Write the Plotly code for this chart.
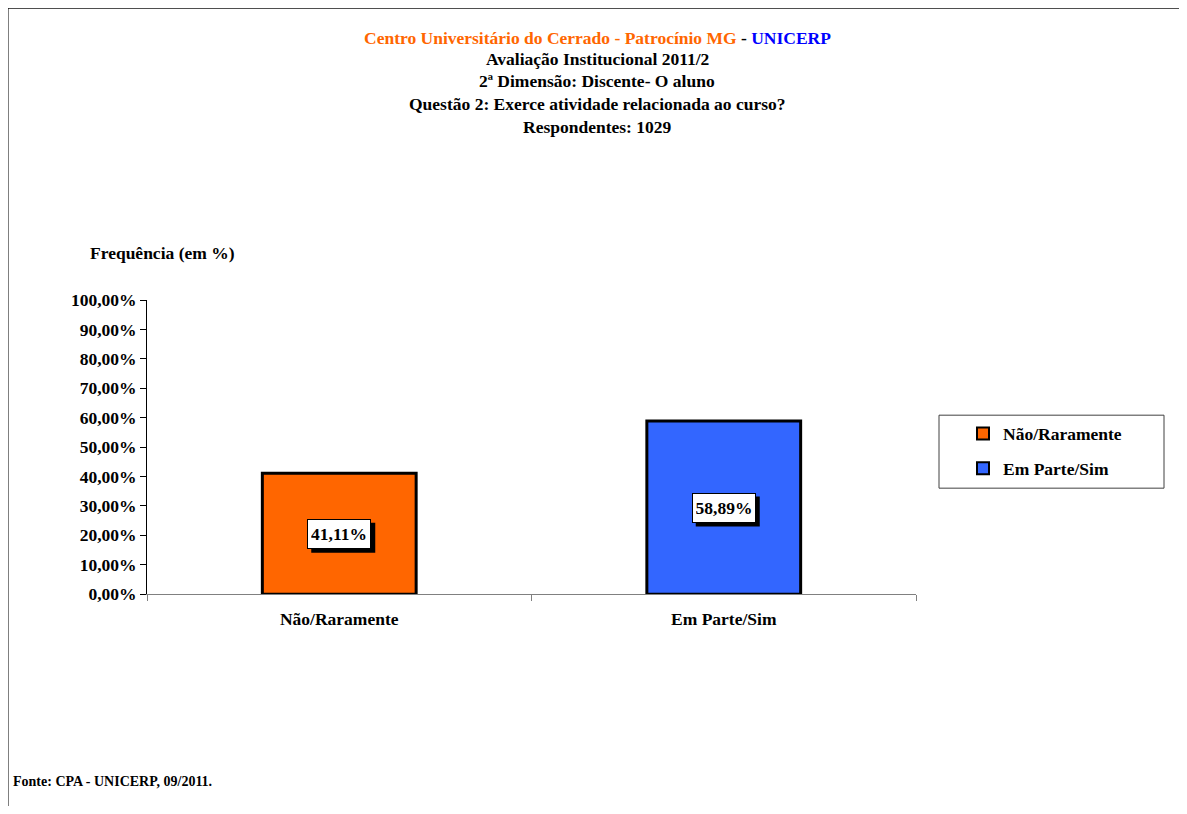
import plotly.graph_objects as go

categories = ["Não/Raramente", "Em Parte/Sim"]
values = [41.11, 58.89]
colors = ["#FF6600", "#3366FF"]
value_labels = ["41,11%", "58,89%"]
tick_vals = [0, 10, 20, 30, 40, 50, 60, 70, 80, 90, 100]
tick_text = ["0,00%", "10,00%", "20,00%", "30,00%", "40,00%", "50,00%",
             "60,00%", "70,00%", "80,00%", "90,00%", "100,00%"]

OFF = 8
W, H = 1187 - 2 * OFF, 814 - 2 * OFF
FONT = "Liberation Serif"
FS = 17.5


def px(x):
    return (x - OFF) / W


def py(y):
    # compensate for the vertical placement observed in the rendered page
    d = (y - 10) / 0.975
    return 1 - (d - OFF) / H


fig = go.Figure()
for c, v, col in zip(categories, values, colors):
    fig.add_trace(go.Bar(
        x=[c], y=[v], name=c, marker=dict(color=col, line=dict(color="black", width=3)),
        width=0.4, legendgroup=c, showlegend=True, hoverinfo="skip",
    ))

# Data labels with drop shadow (shadow drawn as a pixel-sized shape)
BW, BH = 56, 22  # inner label size (px)
for i, (c, v, lab) in enumerate(zip(categories, values, value_labels)):
    half_w = BW / 2 + 4
    half_h = BH / 2 + 4
    fig.add_shape(type="rect", xref="x", yref="y", xsizemode="pixel", ysizemode="pixel",
                  xanchor=i, yanchor=v / 2,
                  x0=-half_w + 4, x1=half_w + 4, y0=-half_h - 4, y1=half_h - 4,
                  fillcolor="black", line=dict(color="black", width=0), layer="above")
    fig.add_annotation(x=c, y=v / 2, text="<b>" + lab + "</b>", showarrow=False, xref="x", yref="y",
                       font=dict(family=FONT, size=FS, color="black"), width=BW, height=BH,
                       bgcolor="white", bordercolor="black", borderwidth=1, borderpad=3)

# Titles
title_lines = [
    "<span style='color:#FF6600'>Centro Universitário do Cerrado - Patrocínio MG</span> - <span style='color:#0000FF'>UNICERP</span>",
    "Avaliação Institucional 2011/2",
    "2ª Dimensão: Discente- O aluno",
    "Questão 2: Exerce atividade relacionada ao curso?",
    "Respondentes: 1029",
]
title_y = [38, 59, 81, 104, 127]
for t, y in zip(title_lines, title_y):
    fig.add_annotation(x=px(597), y=py(y), xref="paper", yref="paper", text="<b>" + t + "</b>",
                       showarrow=False, font=dict(family=FONT, size=FS, color="black"),
                       xanchor="center", yanchor="middle")

fig.add_annotation(x=px(88), y=py(253), xref="paper", yref="paper", text="<b>Frequência (em %)</b>",
                   showarrow=False, font=dict(family=FONT, size=FS, color="black"),
                   xanchor="left", yanchor="middle")

fig.add_annotation(x=px(11), y=py(781), xref="paper", yref="paper", text="<b>Fonte: CPA - UNICERP, 09/2011.</b>",
                   showarrow=False, font=dict(family=FONT, size=14, color="black"),
                   xanchor="left", yanchor="middle")

# Page frame
fig.add_shape(type="rect", xref="paper", yref="paper", x0=px(8), x1=px(1183), y0=py(840), y1=py(8),
              line=dict(color="black", width=1), fillcolor="rgba(0,0,0,0)", layer="below")
# Legend box
fig.add_shape(type="rect", xref="paper", yref="paper", x0=px(939), x1=px(1164), y0=py(488), y1=py(415),
              line=dict(color="#404040", width=1), fillcolor="white", layer="below")

fig.update_layout(
    width=W, height=H, margin=dict(l=0, r=0, t=0, b=0),
    paper_bgcolor="white", plot_bgcolor="white",
    font=dict(family=FONT, size=FS, color="black"),
    showlegend=True,
    legend=dict(x=px(963), y=py(415.5), xanchor="left", yanchor="top",
                borderwidth=0, bgcolor="rgba(0,0,0,0)",
                font=dict(family=FONT, size=FS, color="black", weight="bold"),
                tracegroupgap=9, itemsizing="constant"),
    bargap=0.6,
)
fig.update_xaxes(domain=[px(147), px(916)], showline=True, linecolor="#808080", linewidth=1,
                 ticks="outside", tickson="boundaries", ticklen=6, tickcolor="#808080",
                 tickfont=dict(family=FONT, size=FS, weight="bold"), showgrid=False,
                 ticklabelstandoff=9, range=[-0.5, 1.5])
fig.update_yaxes(domain=[py(594), py(300)], range=[0, 100], showline=True, linecolor="black", linewidth=1,
                 ticks="outside", ticklen=6, tickcolor="black", tickvals=tick_vals, ticktext=tick_text,
                 tickfont=dict(family=FONT, size=FS, weight="bold"), showgrid=False, zeroline=False)

fig.write_html("out.html")
